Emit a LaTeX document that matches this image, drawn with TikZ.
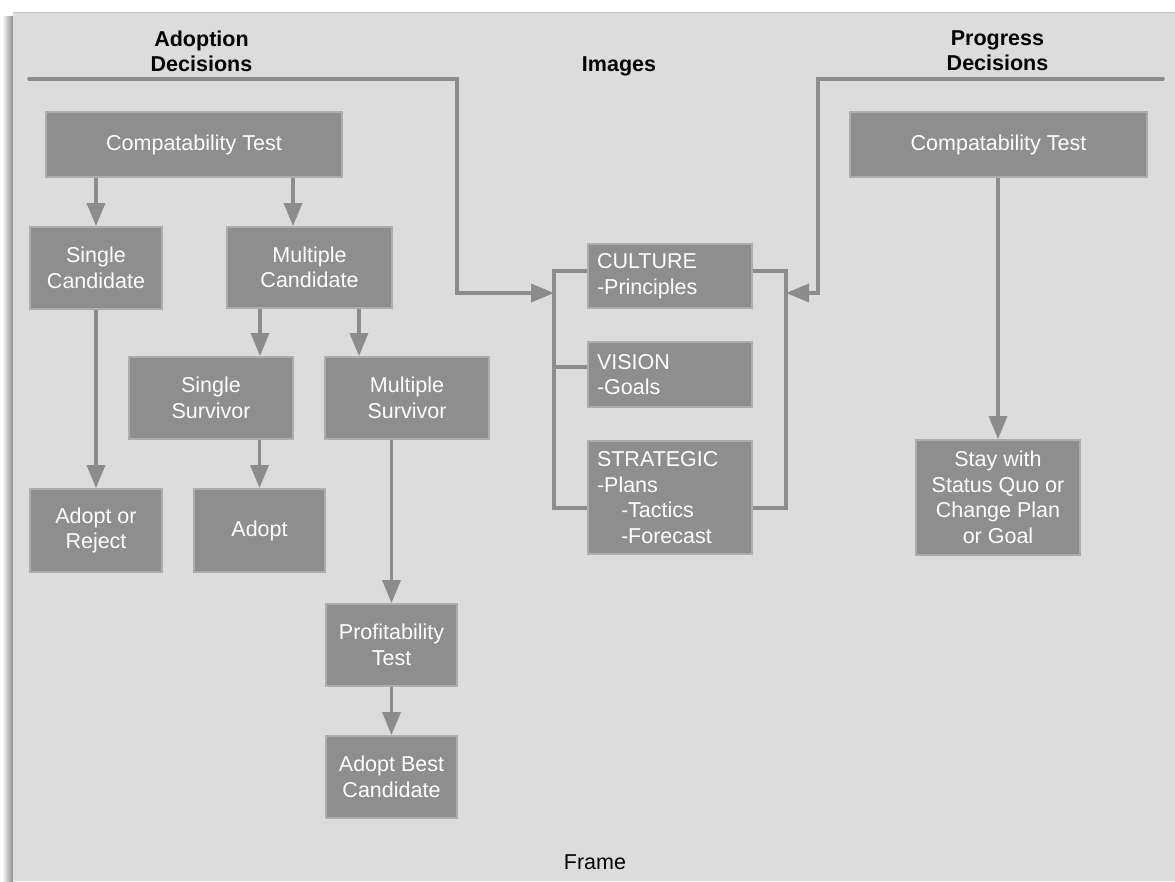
\documentclass[tikz,border=0pt]{standalone}
\usepackage{fontspec}
\setmainfont{Liberation Sans}
\usetikzlibrary{arrows.meta}
\definecolor{panel}{HTML}{DCDCDC}
\definecolor{boxfill}{HTML}{8E8E8E}
\definecolor{boxline}{HTML}{ABAFAC}
\definecolor{connc}{HTML}{8C8C8C}
\pgfdeclarelayer{bg}
\pgfsetlayers{bg,main}
\begin{document}
\begin{tikzpicture}[x=1pt,y=-1pt,
  every node/.style={font=\fontsize{21.5}{25.5}\selectfont},
  box/.style={draw=boxline, line width=1.8pt, fill=boxfill, text=white, align=center, inner sep=0pt},
  lbox/.style={box, align=left, text width=146pt},
  conn/.style={draw=connc, line width=3.5pt},
  arr/.style={conn, -{Triangle[length=23pt,width=18pt]}},
  head/.style={font=\bfseries\fontsize{21.5}{25}\selectfont, align=center, text=black},
]
\useasboundingbox (0,0) rectangle (1175,881);

% boxes
\node[box, minimum width=296pt, minimum height=65pt] (ctL) at (194,144.5) {Compatability Test};
\node[box, minimum width=132pt, minimum height=82pt] (sc) at (96,268) {Single\\Candidate};
\node[box, minimum width=165pt, minimum height=81pt] (mc) at (309.5,267.5) {Multiple\\Candidate};
\node[box, minimum width=164pt, minimum height=82pt] (ss) at (211,398) {Single\\Survivor};
\node[box, minimum width=164pt, minimum height=82pt] (ms) at (407,398) {Multiple\\Survivor};
\node[box, minimum width=132pt, minimum height=83pt] (aor) at (96,530.5) {Adopt or\\Reject};
\node[box, minimum width=131pt, minimum height=83pt] (adopt) at (259.5,530.5) {Adopt};
\node[box, minimum width=131pt, minimum height=82pt] (pt) at (391.5,645) {Profitability\\Test};
\node[box, minimum width=131pt, minimum height=82pt] (abc) at (391.5,777) {Adopt Best\\Candidate};
\node[lbox, minimum width=164pt, minimum height=64pt] (culture) at (670,276) {CULTURE\\-Principles};
\node[lbox, minimum width=164pt, minimum height=65pt] (vision) at (670,374.5) {VISION\\-Goals};
\node[lbox, minimum width=164pt, minimum height=113pt] (strategic) at (670,497.5) {STRATEGIC\\-Plans\\\hspace*{24pt}-Tactics\\\hspace*{24pt}-Forecast};
\node[box, minimum width=297pt, minimum height=65pt] (ctR) at (998.5,144.5) {Compatability Test};
\node[box, minimum width=164pt, minimum height=115pt] (stay) at (998,497.5) {Stay with\\Status Quo or\\Change Plan\\or Goal};

% headings
\node[head] (adh) at (201.5,51) {Adoption\\Decisions};
\node[head, anchor=base] (img) at (619,71) {Images};
\node[head] (prh) at (997.5,51) {Progress\\Decisions};
\node[anchor=base, text=black] (frame) at (595,869) {Frame};

% free ends
\coordinate (adstart) at (29,79);
\coordinate (adbend) at (457,79);
\coordinate (prstart) at (1163,79);
\coordinate (prbend) at (818,79);
\coordinate (lbr) at (554,293);
\coordinate (rbr) at (786,293);

\begin{pgfonlayer}{bg}
  \fill[white] (0,0) rectangle (1175,881);
  \shade[left color=white, right color=black!45] (2,16) rectangle (13,881);
  \fill[panel] (13,12) rectangle (1175,881);
  \draw[black!22, line width=0.8pt] (13,12) -- (1175,12);

  \draw[arr, line cap=round] (adstart) -- (adbend) |- (lbr);
  \draw[arr, line cap=round] (prstart) -- (prbend) |- (rbr);

  \draw[conn] (culture.west |- 0,271) -- (554,271) -- (554,508) -- (strategic.west |- 0,508);
  \draw[conn] (vision.west |- 0,367) -- (554,367);
  \draw[conn] (culture.east |- 0,271) -- (786,271) -- (786,508) -- (strategic.east |- 0,508);

  \draw[arr] (ctL.south -| sc) -- (sc.north);
  \draw[arr] (ctL.south -| 293,0) -- (mc.north -| 293,0);
  \draw[arr] (sc.south) -- (aor.north);
  \draw[arr] (mc.south -| 260,0) -- (ss.north -| 260,0);
  \draw[arr] (mc.south -| 359,0) -- (ms.north -| 359,0);
  \draw[arr] (ss.south -| adopt) -- (adopt.north);
  \draw[arr] (ms.south -| pt) -- (pt.north);
  \draw[arr] (pt.south) -- (abc.north);
  \draw[arr] (ctR.south -| stay) -- (stay.north);
\end{pgfonlayer}
\end{tikzpicture}
\end{document}
